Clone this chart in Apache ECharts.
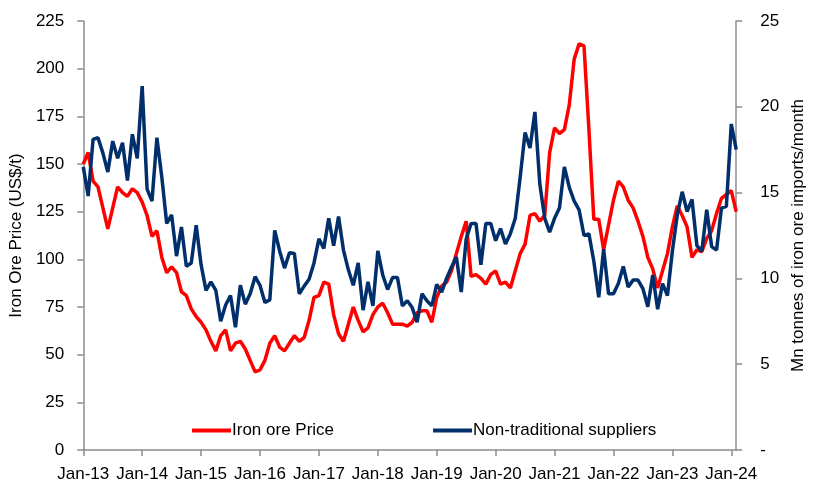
<!DOCTYPE html>
<html>
<head>
<meta charset="utf-8">
<script src="https://cdn.jsdelivr.net/npm/echarts@6/dist/echarts.min.js"></script>
<style>
  html, body { margin: 0; padding: 0; background: #fff; }
  #chart { width: 815px; height: 493px; }
</style>
</head>
<body>
<div id="chart"></div>
<script>
// monthly, Jan-13 .. Feb-24
const monthNames = ['Jan', 'Feb', 'Mar', 'Apr', 'May', 'Jun', 'Jul', 'Aug', 'Sep', 'Oct', 'Nov', 'Dec']
const firstYear = 13
const monthCount = 134

// Iron ore price, US$/t (left axis)
const priceData = [
  150, 156, 141, 138, 127, 116, 127, 138, 135, 133, 137, 135,
  130, 123, 112, 115, 101, 93, 96, 93, 83, 81, 74, 70,
  67, 63, 57, 52, 60, 63, 52, 56, 57, 53, 47, 41,
  42, 47, 56, 60, 54, 52, 56, 60, 57, 59, 68, 80,
  81, 88, 87, 71, 61, 57, 66, 75, 68, 62, 64, 71,
  75, 77, 72, 66, 66, 66, 65, 67, 72, 73, 73, 67,
  80, 86, 88, 94, 103, 112, 120, 91, 92, 90, 87, 92,
  94, 87, 88, 85, 94, 103, 108, 123, 124, 120, 123, 156,
  169, 166, 168, 181, 205, 213, 212, 168, 121, 121, 105, 118,
  131, 141, 138, 131, 127, 120, 112, 101, 95, 85, 94, 103,
  117, 128, 123, 117, 101, 105, 104, 111, 115, 124, 132, 134,
  136, 125
]

// Non-traditional suppliers, Mn tonnes/month (right axis)
const supplierData = [
  16.5, 14.8, 18.1, 18.2, 17.3, 16.2, 18.0, 17.0, 17.9, 15.7, 18.4, 17.0,
  21.2, 15.2, 14.5, 18.2, 15.9, 13.2, 13.7, 11.3, 13.0, 10.7, 10.9, 13.1,
  10.8, 9.3, 9.8, 9.3, 7.5, 8.45, 9.0, 7.15, 9.6, 8.5, 9.1, 10.1,
  9.6, 8.6, 8.75, 12.8, 11.6, 10.6, 11.5, 11.45, 9.1, 9.55, 9.95, 10.9,
  12.3, 11.75, 13.5, 11.9, 13.6, 11.65, 10.5, 9.6, 10.9, 8.15, 9.8, 8.4,
  11.6, 10.2, 9.35, 10.05, 10.05, 8.4, 8.7, 8.3, 7.45, 9.1, 8.7, 8.4,
  9.65, 9.2, 10.0, 10.65, 11.25, 9.2, 12.3, 13.2, 13.2, 10.8, 13.2, 13.2,
  12.2, 12.9, 12.0, 12.6, 13.5, 15.9, 18.5, 17.6, 19.7, 15.5, 13.5, 12.7,
  13.5, 14.1, 16.5, 15.3, 14.5, 14.0, 12.5, 12.6, 11.0, 8.9, 11.7, 9.1,
  9.1, 9.7, 10.7, 9.5, 9.9, 9.9, 9.4, 8.35, 10.2, 8.2, 9.7, 9.0,
  11.6, 13.7, 15.05, 13.9, 14.6, 11.9, 11.6, 14.0, 11.85, 11.65, 14.1, 14.2,
  19.0, 17.5
]

const categories = []
for (let i = 0; i < monthCount; i++) {
  categories.push(monthNames[i % 12] + '-' + (firstYear + Math.floor(i / 12)))
}

const font = 'Liberation Sans, Arial, sans-serif'
const axisGrey = '#8c8c8c'

const chart = echarts.init(document.getElementById('chart'))
const option = {
  animation: false,
  grid: { left: 78, right: 71, top: 21, bottom: 43 },
  legend: {
    left: 187,
    top: 417,
    itemGap: 99,
    itemWidth: 39,
    itemHeight: 4,
    icon: 'rect',
    textStyle: { fontFamily: font, fontSize: 17, color: '#000', padding: [0, 0, 0, -4] },
    data: ['Iron ore Price', 'Non-traditional suppliers']
  },
  xAxis: {
    type: 'category',
    data: categories,
    boundaryGap: false,
    axisLine: { lineStyle: { color: axisGrey, width: 1.5 } },
    axisTick: { interval: 11, length: 6, lineStyle: { color: axisGrey, width: 1.5 } },
    axisLabel: { interval: 11, margin: 16, fontFamily: font, fontSize: 17, color: '#000' },
    splitLine: { show: false }
  },
  yAxis: [
    {
      type: 'value',
      min: 0,
      max: 225,
      interval: 25,
      name: 'Iron Ore Price (US$/t)',
      nameLocation: 'middle',
      nameGap: 53,
      nameTextStyle: { fontFamily: font, fontSize: 17, color: '#000' },
      axisLine: { show: true, lineStyle: { color: axisGrey, width: 1.5 } },
      axisTick: { show: true, length: 6, lineStyle: { color: axisGrey, width: 1.5 } },
      axisLabel: { margin: 19, fontFamily: font, fontSize: 17, color: '#000' },
      splitLine: { show: false }
    },
    {
      type: 'value',
      min: 0,
      max: 25,
      interval: 5,
      position: 'right',
      name: 'Mn tonnes of iron ore imports/month',
      nameLocation: 'middle',
      nameGap: 45,
      nameRotate: 90,
      nameTextStyle: { fontFamily: font, fontSize: 17, color: '#000' },
      axisLine: { show: true, lineStyle: { color: axisGrey, width: 1.5 } },
      axisTick: { show: true, length: 6, lineStyle: { color: axisGrey, width: 1.5 } },
      axisLabel: {
        margin: 24,
        fontFamily: font,
        fontSize: 17,
        color: '#000',
        formatter: v => (v === 0 ? '-' : String(v))
      },
      splitLine: { show: false }
    }
  ],
  series: [
    {
      name: 'Iron ore Price',
      type: 'line',
      yAxisIndex: 0,
      data: priceData,
      showSymbol: false,
      symbol: 'none',
      lineStyle: { color: '#ff0000', width: 3.5 },
      itemStyle: { color: '#ff0000' }
    },
    {
      name: 'Non-traditional suppliers',
      type: 'line',
      yAxisIndex: 1,
      data: supplierData,
      showSymbol: false,
      symbol: 'none',
      lineStyle: { color: '#002f6c', width: 3.5 },
      itemStyle: { color: '#002f6c' }
    }
  ]
}
chart.setOption(option)
</script>
</body>
</html>
